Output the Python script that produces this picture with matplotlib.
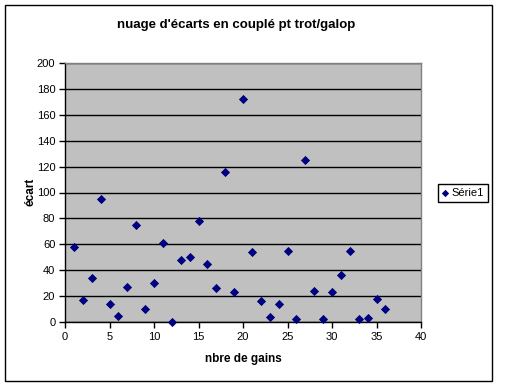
import matplotlib
matplotlib.use("Agg")
import matplotlib.pyplot as plt
from matplotlib.patches import Rectangle

plt.rcParams['font.family'] = ['Liberation Sans', 'DejaVu Sans']

x_vals = list(range(1, 37))
ecarts = [58, 17, 34, 95, 14, 5, 27, 75, 10, 30, 61, 0, 48, 50, 78, 45, 26, 116,
          23, 172, 54, 16, 4, 14, 55, 2, 125, 24, 2, 23, 36, 55, 2, 3, 18, 10]
series_name = "Série1"
title = "nuage d'écarts en couplé pt trot/galop"
xlabel = "nbre de gains"
ylabel = "écart"

W, H = 512, 387
fig = plt.figure(figsize=(W / 100, H / 100), dpi=100)
fig.patch.set_facecolor('white')

# outer chart border
fig.patches.append(Rectangle((5 / W, 1 - 381 / H), 487 / W, 376 / H,
                             transform=fig.transFigure, fill=False,
                             edgecolor='black', linewidth=1.0))

ax = fig.add_axes([65 / W, 1 - 322 / H, 356 / W, 259 / H])
ax.set_facecolor('#C0C0C0')
ax.set_xlim(0, 40)
ax.set_ylim(0, 200)
ax.set_xticks(range(0, 41, 5))
ax.set_yticks(range(0, 201, 20))
ax.grid(axis='y', color='black', linewidth=1.0)
ax.set_axisbelow(True)
for s in ['top', 'right']:
    ax.spines[s].set_color('#808080')
    ax.spines[s].set_linewidth(1.0)
for s in ['left', 'bottom']:
    ax.spines[s].set_color('black')
    ax.spines[s].set_linewidth(1.0)
ax.tick_params(direction='out', length=4, width=1, labelsize=8, colors='black', pad=3)

ax.scatter(x_vals, ecarts, marker='D', s=22, color='#000080', zorder=3,
           linewidths=0, clip_on=False, label=series_name)

fig.text(236 / W, 1 - 25 / H, title, ha='center', va='center',
         fontsize=9.5, fontweight='bold')
fig.text(243 / W, 1 - 359 / H, xlabel, ha='center', va='center',
         fontsize=8.5, fontweight='bold')
fig.text(30 / W, 1 - 192 / H, ylabel, ha='center', va='center',
         fontsize=8.5, fontweight='bold', rotation=90)

leg = ax.legend(loc='center left', bbox_to_anchor=(438 / W, 1 - 193 / H),
                bbox_transform=fig.transFigure, fontsize=8, frameon=True,
                fancybox=False, edgecolor='black', framealpha=1,
                handlelength=0.6, handletextpad=0.3, borderpad=0.35,
                borderaxespad=0, markerscale=0.8)
leg.get_frame().set_linewidth(1.0)

fig.savefig('out.png', dpi=100)
